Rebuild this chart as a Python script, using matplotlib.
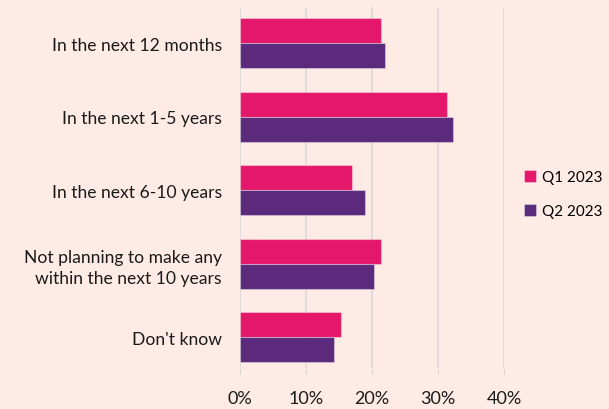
import matplotlib.pyplot as plt
import numpy as np
from matplotlib.ticker import PercentFormatter

plt.rcParams['font.family'] = ['Lato', 'DejaVu Sans']

# dados
categorias = ['In the next 12 months', 'In the next 1-5 years', 'In the next 6-10 years',
              'Not planning to make any\nwithin the next 10 years', "Don't know"]
q1_2023 = [21.4, 31.4, 17.0, 21.3, 15.3]
q2_2023 = [22.0, 32.3, 19.0, 20.3, 14.3]
ticks_x = [0, 10, 20, 30, 40]

fundo = '#FEEBE6'
rosa = '#E5176A'
roxo = '#5B2A7C'

fig = plt.figure(figsize=(6.09, 4.10), dpi=100, facecolor=fundo)
ax = fig.add_axes([240 / 609, 1 - 369 / 410, 264 / 609, 361 / 410], facecolor=fundo)

y = np.arange(len(categorias))
h = 0.34
ax.barh(y - h / 2, q1_2023, height=h, color=rosa, edgecolor=(1, 1, 1, 0.35), lw=0.8,
        label='Q1 2023', zorder=3)
ax.barh(y + h / 2, q2_2023, height=h, color=roxo, edgecolor=(1, 1, 1, 0.35), lw=0.8,
        label='Q2 2023', zorder=3)

ax.set_xlim(0, 40)
ax.set_ylim(4.42, -0.49)
ax.set_xticks(ticks_x)
ax.xaxis.set_major_formatter(PercentFormatter(decimals=0))
ax.set_yticks(y)
ax.set_yticklabels(categorias, fontsize=12.6, color='#1a1a1a', linespacing=1.4)
ax.tick_params(axis='y', length=0, pad=13)
ax.tick_params(axis='x', length=4, color='#dcd6d3', labelsize=13, labelcolor='#1a1a1a', pad=12)
for s in ax.spines.values():
    s.set_visible(False)
ax.grid(axis='x', color='#e1dcd9', lw=1.5, zorder=0)
ax.set_axisbelow(True)

fig.legend(loc='upper left', bbox_to_anchor=(518 / 609, 1 - 165 / 410), frameon=False,
           fontsize=11, handlelength=0.8, handleheight=0.8, handletextpad=0.35,
           labelspacing=1.3, borderaxespad=0)

fig.savefig('out.png', dpi=100, facecolor=fundo)
